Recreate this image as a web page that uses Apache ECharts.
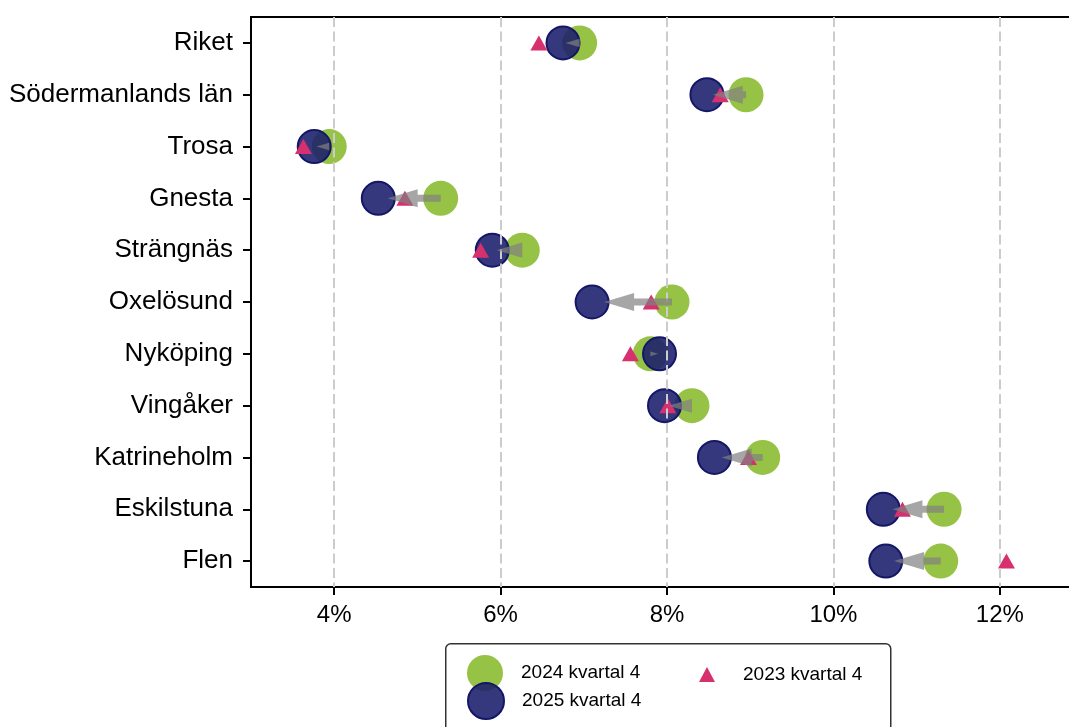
<!DOCTYPE html>
<html>
<head>
<meta charset="utf-8">
<script src="https://cdn.jsdelivr.net/npm/echarts@6/dist/echarts.min.js"></script>
<style>
html,body{margin:0;padding:0;background:#fff;}
#chart{width:1069px;height:727px;}
</style>
</head>
<body>
<div id="chart"></div>
<script>
const categories = ['Riket','Södermanlands län','Trosa','Gnesta','Strängnäs','Oxelösund','Nyköping','Vingåker','Katrineholm','Eskilstuna','Flen'];
const v2024 = [6.95, 8.95, 3.94, 5.28, 6.26, 8.06, 7.80, 8.30, 9.15, 11.33, 11.29];
const v2025 = [6.75, 8.48, 3.76, 4.53, 5.90, 7.10, 7.91, 7.97, 8.57, 10.60, 10.63];
const v2023 = [6.46, 8.64, 3.63, 4.85, 5.76, 7.81, 7.56, 8.01, 8.98, 10.83, 12.08];
const xTicks = [4, 6, 8, 10, 12];
const seriesNames = ['2024 kvartal 4', '2025 kvartal 4', '2023 kvartal 4'];

const FONT = 'Liberation Sans, Arial, sans-serif';
const chart = echarts.init(document.getElementById('chart'), null, {renderer: 'canvas'});

const arrowData = categories.map((c, i) => [v2024[i], v2025[i], i]);

const option = {
  animation: false,
  backgroundColor: '#fff',
  textStyle: {fontFamily: FONT, color: '#000'},
  grid: {left: 251, top: 17, width: 832, height: 570, outerBoundsMode: 'none', containLabel: false,
         show: true, borderColor: '#000', borderWidth: 2, backgroundColor: 'transparent'},
  xAxis: {
    type: 'value', min: 3, max: 13,
    axisLine: {show: true, lineStyle: {color: '#000', width: 2}},
    axisTick: {show: true, length: 8, lineStyle: {color: '#000', width: 2}, customValues: xTicks},
    axisLabel: {customValues: xTicks, formatter: v => v + '%', fontSize: 24, color: '#000', margin: 16, fontFamily: FONT},
    splitLine: {show: false}
  },
  yAxis: {
    type: 'category', data: categories, inverse: true, boundaryGap: true,
    axisLine: {show: true, lineStyle: {color: '#000', width: 2}},
    axisTick: {show: true, alignWithLabel: true, length: 8, lineStyle: {color: '#000', width: 2}},
    axisLabel: {fontSize: 26, color: '#000', margin: 18, fontFamily: FONT},
    splitLine: {show: false}
  },
  graphic: [{
    type: 'rect', left: 445, top: 643, z: 50,
    shape: {width: 445, height: 110, r: 5},
    style: {fill: '#fff', stroke: '#333', lineWidth: 1.5}
  }],
  legend: [
    {data: [seriesNames[0]], left: 467, top: 655, padding: 0, itemWidth: 36, itemHeight: 36, z: 60,
     textStyle: {fontSize: 19, color: '#000', fontFamily: FONT, padding: [0, 0, 0, 13]}},
    {data: [seriesNames[1]], left: 467, top: 682, padding: 0, itemWidth: 36, itemHeight: 36, z: 61,
     textStyle: {fontSize: 19, color: '#000', fontFamily: FONT, padding: [0, 0, 0, 13]}},
    {data: [seriesNames[2]], left: 699, top: 665, padding: 0, itemWidth: 16, itemHeight: 15, z: 62,
     textStyle: {fontSize: 19, color: '#000', fontFamily: FONT, padding: [0, 0, 0, 23]}}
  ],
  series: [
    {
      type: 'scatter', name: 'grid', data: [], z: 1, silent: true,
      markLine: {
        silent: true, symbol: 'none', label: {show: false},
        lineStyle: {color: '#cccccc', width: 2, type: [10, 4.5]},
        data: xTicks.map(v => ({xAxis: v}))
      }
    },
    {
      type: 'scatter', name: seriesNames[0], z: 2,
      data: v2024.map((v, i) => [v, i]),
      symbol: 'circle', symbolSize: 35,
      itemStyle: {color: 'rgba(141,189,53,0.92)', opacity: 1}
    },
    {
      type: 'scatter', name: seriesNames[1], z: 3,
      data: v2025.map((v, i) => [v, i]),
      symbol: 'circle', symbolSize: 33,
      itemStyle: {color: 'rgba(26,28,108,0.88)', borderColor: '#141766', borderWidth: 2, opacity: 1}
    },
    {
      type: 'scatter', name: seriesNames[2], z: 4,
      data: v2023.map((v, i) => [v, i]),
      symbol: 'triangle', symbolSize: [17, 15],
      itemStyle: {color: '#d6306e', opacity: 1}
    },
    {
      type: 'custom', name: 'arrows', z: 5, silent: true,
      data: arrowData,
      encode: {x: [0, 1], y: 2},
      renderItem: function (params, api) {
        const g = api.value(0), n = api.value(1), r = api.value(2);
        const p0 = api.coord([g, r]);
        const p1 = api.coord([n, r]);
        const L = (p1[0] - p0[0]) * 0.85;
        const dir = L >= 0 ? 1 : -1;
        const len = Math.abs(L);
        const hl = Math.min(30, len);
        const hw = Math.min(18, 0.6 * hl);
        const sw = Math.min(3.5, hw / 2);
        const y = p0[1];
        const tipX = p0[0] + L;
        const baseX = tipX - dir * hl;
        const pts = [
          [p0[0], y - sw], [baseX, y - sw], [baseX, y - hw / 2], [tipX, y],
          [baseX, y + hw / 2], [baseX, y + sw], [p0[0], y + sw]
        ];
        return {
          type: 'polygon',
          shape: {points: pts},
          style: {fill: 'rgba(128,128,128,0.7)', stroke: null}
        };
      }
    }
  ]
};
chart.setOption(option);
</script>
</body>
</html>
